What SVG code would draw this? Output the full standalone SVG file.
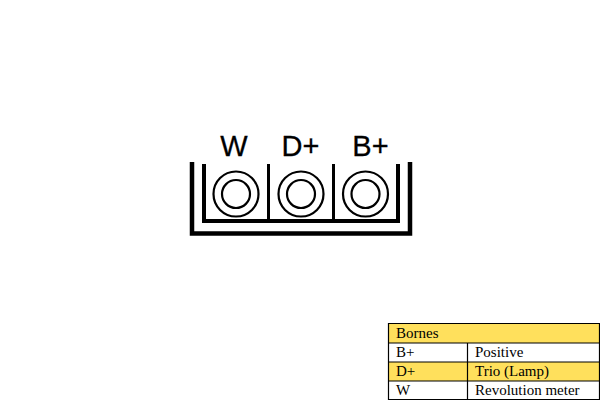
<svg xmlns="http://www.w3.org/2000/svg" width="600" height="400" viewBox="0 0 600 400">
<style>
.k{fill:none;stroke:#000}
.o{stroke-width:4.500}
.i{stroke-width:4}
.d{stroke-width:3}
.c{stroke-width:2.200}
.l{font-family:"Liberation Sans",Arial,sans-serif;font-size:29px;fill:#000;stroke:#000;stroke-width:.3;text-anchor:middle}
.t{font-family:"Liberation Serif","Times New Roman",serif;font-size:15px;fill:#000}
.g{stroke:#000;stroke-width:1.200;fill:none}
</style>
<rect width="600" height="400" fill="#fff"/>
<g id="connector-body">
<path class="k o" d="M192 162V233.500H410V162"/>
<path class="k i" d="M204 164V221H398V164"/>
<path class="k d" d="M268.500 164V221M333.500 164V221"/>
</g>
<g id="terminal-W"><circle class="k c" cx="236" cy="194" r="22.500"/><circle class="k c" cx="236" cy="194" r="14"/><text class="l" x="234" y="155.500">W</text></g>
<g id="terminal-D"><circle class="k c" cx="301" cy="194" r="22.500"/><circle class="k c" cx="301" cy="194" r="14"/><text class="l" x="300.500" y="155.500">D+</text></g>
<g id="terminal-B"><circle class="k c" cx="365.500" cy="194" r="22.500"/><circle class="k c" cx="365.500" cy="194" r="14"/><text class="l" x="370.500" y="155.500">B+</text></g>
<g id="legend">
<rect x="389" y="324" width="211" height="19" fill="#ffe05c"/>
<rect x="389" y="362" width="211" height="19" fill="#ffe05c"/>
<path class="g" d="M388.500 323.500H599.500V399.500H388.500ZM388.500 343H599.500M388.500 362H599.500M388.500 381H599.500M467.500 343V399.500"/>
<text class="t" x="396" y="338">Bornes</text>
<text class="t" x="396" y="357">B+</text><text class="t" x="475" y="357">Positive</text>
<text class="t" x="396" y="376">D+</text><text class="t" x="475" y="376">Trio (Lamp)</text>
<text class="t" x="396" y="395">W</text><text class="t" x="475" y="395">Revolution meter</text>
</g>
</svg>
